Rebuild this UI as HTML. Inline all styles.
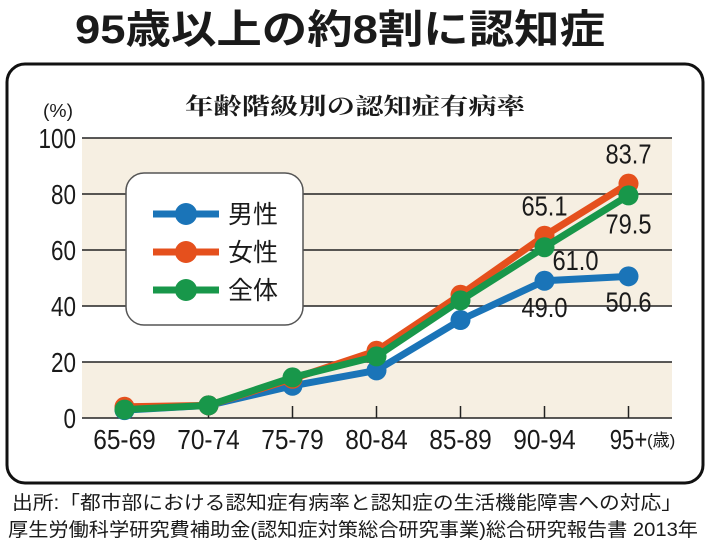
<!DOCTYPE html>
<html><head><meta charset="utf-8"><style>
body{margin:0;background:#fff;width:710px;height:547px;overflow:hidden}
svg{display:block}
text{font-family:"Liberation Sans","Noto Sans CJK JP",sans-serif;fill:#1a1a1a}
</style></head><body>
<svg width="710" height="547" viewBox="0 0 710 547">
<text x="340" y="43" text-anchor="middle" font-size="40" font-weight="bold" textLength="530" lengthAdjust="spacingAndGlyphs">95歳以上の約8割に認知症</text>
<rect x="7" y="64" width="696" height="419" rx="18" fill="#fff" stroke="#111" stroke-width="3"/>
<text x="355" y="114" text-anchor="middle" font-size="23" font-weight="bold" style="font-family:'Noto Serif CJK SC',serif" textLength="340" lengthAdjust="spacingAndGlyphs">年齢階級別の認知症有病率</text>
<text x="43" y="117" font-size="18" textLength="30" lengthAdjust="spacingAndGlyphs">(%)</text>
<g id="plot"></g>
<text x="12" y="509" font-size="19" textLength="670" lengthAdjust="spacingAndGlyphs">出所:「都市部における認知症有病率と認知症の生活機能障害への対応」</text>
<text x="8" y="536" font-size="19" textLength="690" lengthAdjust="spacingAndGlyphs">厚生労働科学研究費補助金(認知症対策総合研究事業)総合研究報告書 2013年</text>
</svg>
<script>
const categories=["65-69","70-74","75-79","80-84","85-89","90-94","95+"];
const male=[2.8,4.5,11.5,17,35,49.0,50.6];
const female=[4,4.5,14,24,44,65.1,83.7];
const total=[3,4.5,14.5,22,42,61.0,79.5];
const yTicks=[0,20,40,60,80,100];
const ns="http://www.w3.org/2000/svg";
const g=document.getElementById('plot');
const X0=82,X1=672,Y0=418,Y1=138;
const xs=i=>124.5+i*84;
const ys=v=>Y0-(v/100)*(Y0-Y1);
function mk(t,a,p){const e=document.createElementNS(ns,t);for(const k in a)e.setAttribute(k,a[k]);(p||g).appendChild(e);return e;}
for(let i=0;i<yTicks.length-1;i++){
 const r=mk('rect',{x:X0,y:ys(yTicks[i+1]),width:X1-X0,height:ys(yTicks[i])-ys(yTicks[i+1]),fill:yTicks[i]===20?'#fff':'#f6efe2'});
 
 
}
yTicks.forEach(v=>{
 const l=mk('line',{x1:X0,x2:X1,y1:ys(v),y2:ys(v),stroke:'#222','stroke-width':1.5});
 
 
 const t=mk('text',{x:76,y:ys(v)+10,'text-anchor':'end','font-size':28,textLength:String(v).length*12.5,lengthAdjust:'spacingAndGlyphs'});
 t.textContent=v;
 
 
});
categories.forEach((c,i)=>{
 const tk=mk('line',{x1:xs(i),x2:xs(i),y1:Y0,y2:Y0-12,stroke:'#222','stroke-width':1.5});
 
 
 const t=mk('text',{x:xs(i),y:449,'text-anchor':'middle','font-size':28,textLength:c.length*12.5,lengthAdjust:'spacingAndGlyphs'});
 t.textContent=c;
 
 
});
const yu=mk('text',{x:647,y:446,'font-size':17});
yu.textContent='(歳)';


function series(d,col,name){
 const pl=mk('polyline',{points:d.map((v,i)=>xs(i)+','+ys(v)).join(' '),fill:'none',stroke:col,'stroke-width':7,'stroke-linejoin':'round'});
 
 
 d.forEach((v,i)=>{const c=mk('circle',{cx:xs(i),cy:ys(v),r:10,fill:col});
 
 });
}
series(male,'#1a74b8','male');
series(female,'#e5501d','female');
series(total,'#18974a','total');
function lab(txt,i,v,dy){const t=mk('text',{x:xs(i),y:ys(v)+dy,'text-anchor':'middle','font-size':28,textLength:txt.length*11.5,lengthAdjust:'spacingAndGlyphs'});t.textContent=txt;
 
 }
lab(female[6].toFixed(1),6,female[6],-20);
lab(total[6].toFixed(1),6,total[6],38);
lab(female[5].toFixed(1),5,female[5],-20);
const t61=mk('text',{x:xs(5)+8,y:ys(total[5])+23,'font-size':28,textLength:46,lengthAdjust:'spacingAndGlyphs'});t61.textContent=total[5].toFixed(1);


lab(male[5].toFixed(1),5,male[5],36);
lab(male[6].toFixed(1),6,male[6],35);
const lg=mk('g',{});


mk('rect',{x:126,y:173,width:177,height:152,rx:18,fill:'#fff',stroke:'#555','stroke-width':1.5},lg);
[['男性','#1a74b8'],['女性','#e5501d'],['全体','#18974a']].forEach((e,k)=>{
 const y=214+k*38;
 const ln=mk('line',{x1:153,x2:219,y1:y,y2:y,stroke:e[1],'stroke-width':7},lg);
 
 
 mk('circle',{cx:186,cy:y,r:11,fill:e[1]},lg);
 const t=mk('text',{x:228,y:y+9,'font-size':25},lg);t.textContent=e[0];
 
 
});
</script>
</body></html>
